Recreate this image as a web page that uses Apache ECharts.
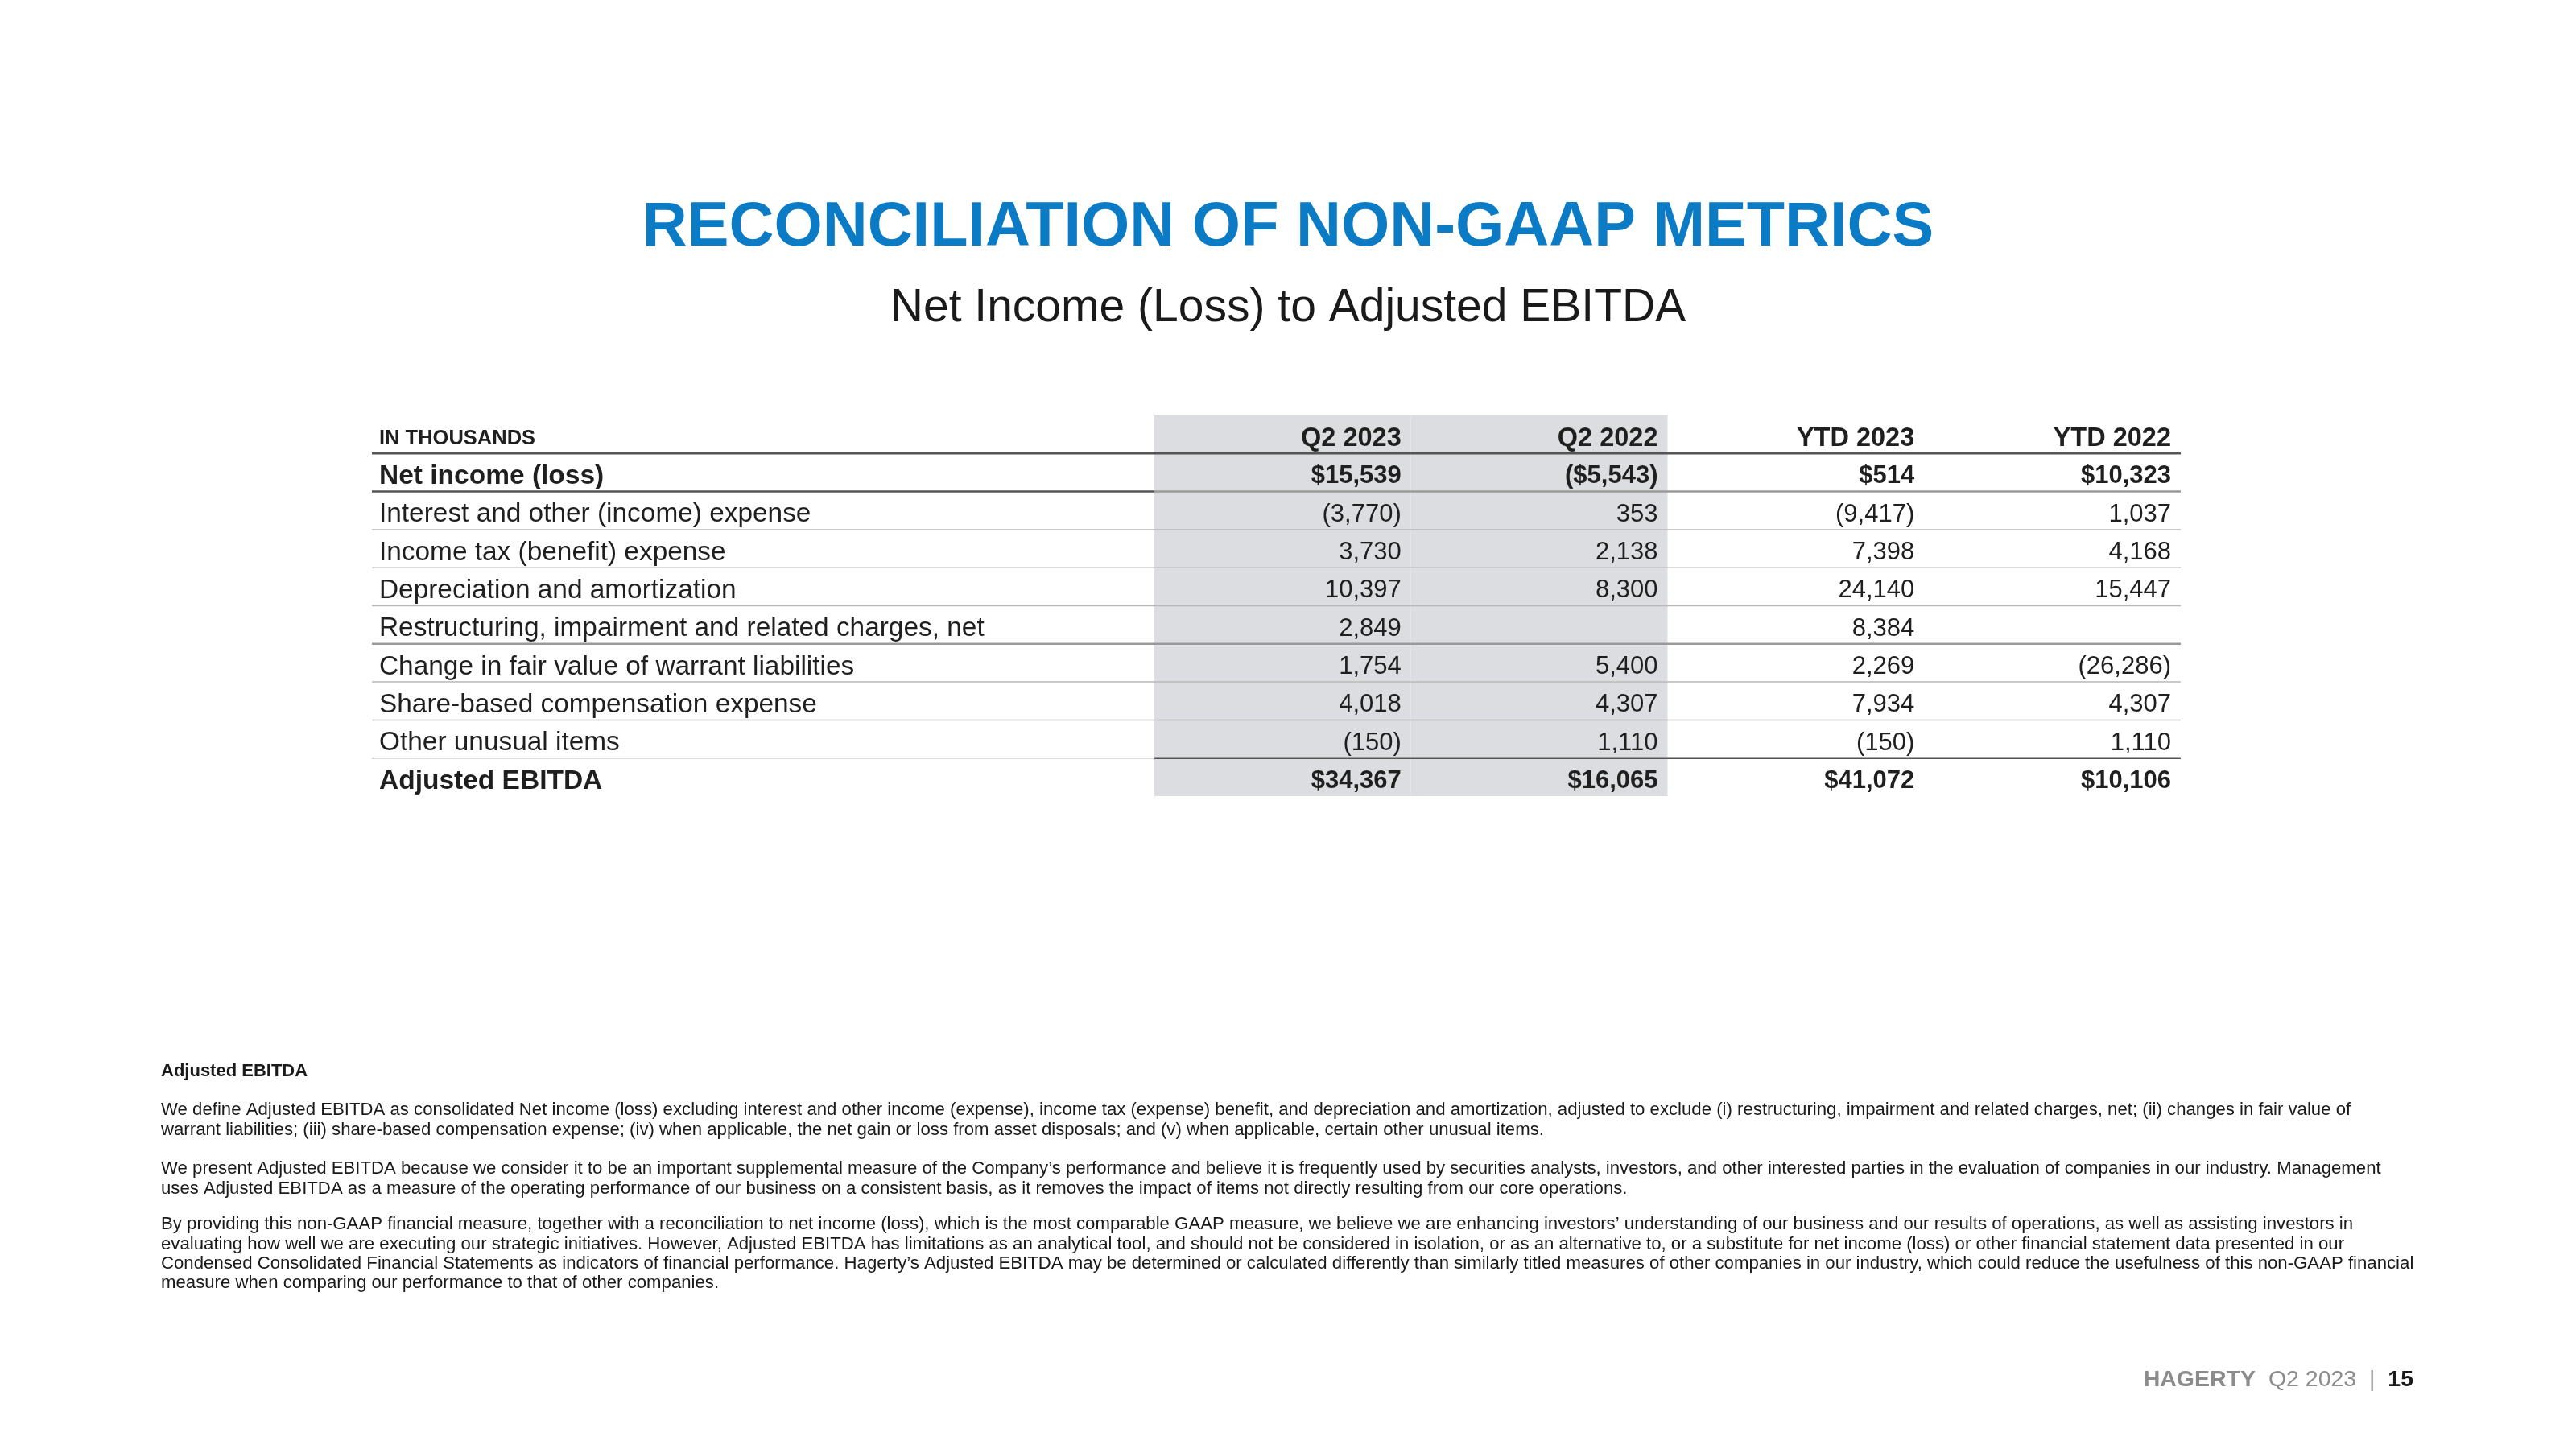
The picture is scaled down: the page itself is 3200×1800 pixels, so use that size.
<!DOCTYPE html>
<html>
<head>
<meta charset="utf-8">
<title>Reconciliation of Non-GAAP Metrics</title>
<script src="https://cdn.jsdelivr.net/npm/echarts/dist/echarts.min.js"></script>
<style>
  html, body { margin: 0; padding: 0; background: #fff; }
  #main { width: 3200px; height: 1800px; }
</style>
</head>
<body>
<div id="main"></div>
<script>
// table data (in thousands)
const columns = ['Q2 2023', 'Q2 2022', 'YTD 2023', 'YTD 2022'];
const headerLabel = 'IN THOUSANDS';
const rowLabels = [
  'Net income (loss)',
  'Interest and other (income) expense',
  'Income tax (benefit) expense',
  'Depreciation and amortization',
  'Restructuring, impairment and related charges, net',
  'Change in fair value of warrant liabilities',
  'Share-based compensation expense',
  'Other unusual items',
  'Adjusted EBITDA'
];
const q2_2023 = [15539, -3770, 3730, 10397, 2849, 1754, 4018, -150, 34367];
const q2_2022 = [-5543, 353, 2138, 8300, null, 5400, 4307, 1110, 16065];
const ytd_2023 = [514, -9417, 7398, 24140, 8384, 2269, 7934, -150, 41072];
const ytd_2022 = [10323, 1037, 4168, 15447, null, -26286, 4307, 1110, 10106];
const boldRows = ['Net income (loss)', 'Adjusted EBITDA'];

const footTitle = 'Adjusted EBITDA';
const footParas = [
  'We define Adjusted EBITDA as consolidated Net income (loss) excluding interest and other income (expense), income tax (expense) benefit, and depreciation and amortization, adjusted to exclude (i) restructuring, impairment and related charges, net; (ii) changes in fair value of\nwarrant liabilities; (iii) share-based compensation expense; (iv) when applicable, the net gain or loss from asset disposals; and (v) when applicable, certain other unusual items.',
  'We present Adjusted EBITDA because we consider it to be an important supplemental measure of the Company\u2019s performance and believe it is frequently used by securities analysts, investors, and other interested parties in the evaluation of companies in our industry. Management\nuses Adjusted EBITDA as a measure of the operating performance of our business on a consistent basis, as it removes the impact of items not directly resulting from our core operations.',
  'By providing this non-GAAP financial measure, together with a reconciliation to net income (loss), which is the most comparable GAAP measure, we believe we are enhancing investors\u2019 understanding of our business and our results of operations, as well as assisting investors in\nevaluating how well we are executing our strategic initiatives. However, Adjusted EBITDA has limitations as an analytical tool, and should not be considered in isolation, or as an alternative to, or a substitute for net income (loss) or other financial statement data presented in our\nCondensed Consolidated Financial Statements as indicators of financial performance. Hagerty\u2019s Adjusted EBITDA may be determined or calculated differently than similarly titled measures of other companies in our industry, which could reduce the usefulness of this non-GAAP financial\nmeasure when comparing our performance to that of other companies.'
];

const FONT = '"Liberation Sans", Arial, Helvetica, sans-serif';
const yCats = [headerLabel].concat(rowLabels);
const series4 = [q2_2023, q2_2022, ytd_2023, ytd_2022];

function fmt(v, dollar) {
  if (v == null) return '';
  let s = (dollar ? '$' : '') + Math.abs(v).toLocaleString('en-US');
  return v < 0 ? '(' + s + ')' : s;
}

// cells: header row + values
const cells = [];
columns.forEach((c, ci) => {
  cells.push({ value: [ci, 0], text: c, bold: true });
  series4[ci].forEach((v, ri) => {
    const bold = boldRows.indexOf(rowLabels[ri]) >= 0;
    cells.push({ value: [ci, ri + 1], text: fmt(v, bold), bold: bold });
  });
});

// row separators: index of the row above the line
const lineRows = [0, 1, 2, 3, 4, 5, 6, 7, 8];
const DARK = { stroke: '#555', lineWidth: 2.5 };
const MID = { stroke: '#9a9a9a', lineWidth: 2.5 };
const LIGHT = { stroke: '#b8b8b8', lineWidth: 1.5 };
function lineStyleFor(r) {
  if (r === 0) return [DARK, DARK];
  if (r === 1) return [DARK, MID];
  if (r === 5) return [MID, MID];
  if (r === 8) return [LIGHT, DARK];
  return [LIGHT, LIGHT];
}

const LABEL_COL = 972; // width of the label column left of the numbers

const chart = echarts.init(document.getElementById('main'));
const option = {
  backgroundColor: '#fff',
  animation: false,
  grid: { left: 1434, right: 491, top: 516, bottom: 811 },
  xAxis: {
    type: 'category',
    data: columns,
    show: false
  },
  yAxis: {
    type: 'category',
    data: yCats,
    inverse: true,
    axisLine: { show: false },
    axisTick: { show: false },
    splitLine: { show: false },
    axisLabel: {
      align: 'left',
      margin: 963,
      padding: [10, 0, 0, 0],
      formatter: function (value, idx) {
        if (idx === 0) return '{h|' + value + '}';
        if (boldRows.indexOf(value) >= 0) return '{b|' + value + '}';
        return '{n|' + value + '}';
      },
      rich: {
        h: { fontFamily: FONT, fontSize: 25.5, fontWeight: 'bold', color: '#1f1f1f' },
        b: { fontFamily: FONT, fontSize: 33.5, fontWeight: 'bold', color: '#1f1f1f' },
        n: { fontFamily: FONT, fontSize: 33.4, color: '#1f1f1f' }
      }
    }
  },
  graphic: [
    {
      type: 'text', left: 'center', top: 245,
      style: {
        text: 'RECONCILIATION OF NON-GAAP METRICS',
        font: 'bold 77.5px ' + FONT, fill: '#0C7BC6'
      }
    },
    {
      type: 'text', left: 'center', top: 355,
      style: {
        text: 'Net Income (Loss) to Adjusted EBITDA',
        font: '57px ' + FONT, fill: '#1a1a1a'
      }
    },
    {
      type: 'text', left: 200, top: 1320,
      style: { text: footTitle, font: 'bold 22px ' + FONT, fill: '#1a1a1a' }
    },
    {
      type: 'text', left: 200, top: 1367,
      style: { text: footParas[0], font: '22.2px ' + FONT, fill: '#1a1a1a', lineHeight: 24.3 }
    },
    {
      type: 'text', left: 200, top: 1440,
      style: { text: footParas[1], font: '22.2px ' + FONT, fill: '#1a1a1a', lineHeight: 24.3 }
    },
    {
      type: 'text', left: 200, top: 1509,
      style: { text: footParas[2], font: '22.2px ' + FONT, fill: '#1a1a1a', lineHeight: 24.3 }
    },
    {
      type: 'text', right: 202, top: 1700,
      style: {
        text: '{a|HAGERTY}  {q|Q2 2023}  {s||}  {p|15}',
        font: '28.5px ' + FONT,
        fill: '#8c8c8c',
        rich: {
          a: { fontFamily: FONT, fontSize: 28.5, fontWeight: 'bold', fill: '#8c8c8c' },
          q: { fontFamily: FONT, fontSize: 28.5, fill: '#8c8c8c' },
          s: { fontFamily: FONT, fontSize: 28.5, fill: '#9a9a9a' },
          p: { fontFamily: FONT, fontSize: 28.5, fontWeight: 'bold', fill: '#1a1a1a' }
        }
      }
    }
  ],
  series: [
    {
      // shaded quarter columns
      name: 'band',
      type: 'custom',
      z: 1,
      silent: true,
      data: [[0, 0], [1, 0]],
      renderItem: function (params, api) {
        const p = api.coord([api.value(0), api.value(1)]);
        const s = api.size([1, 1]);
        return {
          type: 'rect',
          shape: { x: p[0] - s[0] / 2, y: p[1] - s[1] / 2, width: s[0], height: s[1] * yCats.length },
          style: { fill: '#dcdde0' }
        };
      }
    },
    {
      name: 'lines',
      type: 'custom',
      z: 2,
      silent: true,
      data: lineRows.map(r => [0, r]),
      renderItem: function (params, api) {
        const r = api.value(1);
        const p = api.coord([0, r]);
        const s = api.size([1, 1]);
        const y = p[1] + s[1] / 2;
        const cs = params.coordSys;
        const st = lineStyleFor(r);
        return {
          type: 'group',
          children: [
            { type: 'line', shape: { x1: cs.x - LABEL_COL, y1: y, x2: cs.x, y2: y }, style: st[0] },
            { type: 'line', shape: { x1: cs.x, y1: y, x2: cs.x + cs.width, y2: y }, style: st[1] }
          ]
        };
      }
    },
    {
      name: 'cells',
      type: 'custom',
      z: 3,
      silent: true,
      data: cells.map(c => c.value),
      renderItem: function (params, api) {
        const c = cells[params.dataIndex];
        const p = api.coord([api.value(0), api.value(1)]);
        const s = api.size([1, 1]);
        return {
          type: 'text',
          x: p[0] + s[0] / 2 - 12,
          y: p[1] + 5,
          style: {
            text: c.text,
            align: 'right',
            verticalAlign: 'middle',
            font: (c.bold ? 'bold ' : '') + (c.value[1] === 0 ? 32.5 : 31) + 'px ' + FONT,
            fill: '#1f1f1f'
          }
        };
      }
    }
  ]
};
chart.setOption(option);
</script>
</body>
</html>
